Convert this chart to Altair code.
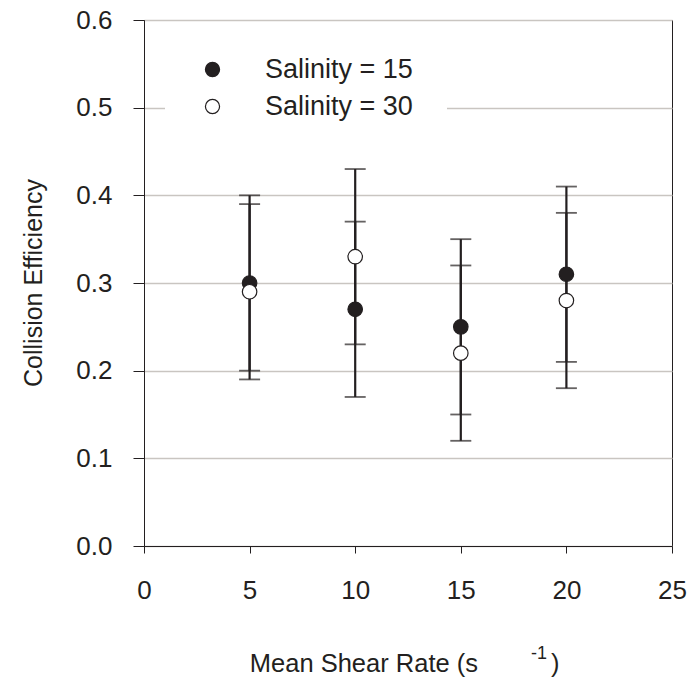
import altair as alt
import pandas as pd

# ---- data ----
shear = [5, 10, 15, 20]
series_names = ["Salinity = 15", "Salinity = 30"]
sal15_mean = [0.30, 0.27, 0.25, 0.31]
sal15_lo = [0.20, 0.17, 0.15, 0.21]
sal15_hi = [0.40, 0.37, 0.35, 0.41]
sal30_mean = [0.29, 0.33, 0.22, 0.28]
sal30_lo = [0.19, 0.23, 0.12, 0.18]
sal30_hi = [0.39, 0.43, 0.32, 0.38]
x_ticks = [0, 5, 10, 15, 20, 25]
y_ticks = [0.0, 0.1, 0.2, 0.3, 0.4, 0.5, 0.6]

rows = []
for name, m, lo, hi in [(series_names[0], sal15_mean, sal15_lo, sal15_hi),
                        (series_names[1], sal30_mean, sal30_lo, sal30_hi)]:
    for i, x in enumerate(shear):
        rows.append({"series": name, "x": x, "mean": m[i], "lo": lo[i], "hi": hi[i]})
df = pd.DataFrame(rows)
caps = pd.concat([
    df[["series", "x", "lo"]].rename(columns={"lo": "v"}),
    df[["series", "x", "hi"]].rename(columns={"hi": "v"}),
])

FONT = "Liberation Sans"
INK = "#231f20"
W, H = 528, 526

xscale = alt.Scale(domain=[0, 25], nice=False, zero=False)
yscale = alt.Scale(domain=[0, 0.6], nice=False)

xaxis = alt.Axis(values=x_ticks, title=None, tickSize=7, labelFontSize=26,
                 labelFont=FONT, labelColor=INK, labelPadding=24, grid=False,
                 domainColor=INK, tickColor=INK, labelFlush=False)
yaxis = alt.Axis(values=y_ticks, format=".1f", title=None, tickSize=11,
                 labelFontSize=26, labelFont=FONT, labelColor=INK, labelPadding=21,
                 grid=True, gridColor="#c9c5c1", gridWidth=1.5,
                 domainColor=INK, tickColor=INK)

base = alt.Chart(df)

stems = base.mark_rule(color=INK, strokeWidth=2.2).encode(
    x=alt.X("x:Q", scale=xscale, axis=xaxis),
    y=alt.Y("lo:Q", scale=yscale, axis=yaxis),
    y2="hi:Q",
)

cap_marks = alt.Chart(caps).mark_tick(color=INK, orient="horizontal", size=21, thickness=1.8).encode(
    x=alt.X("x:Q", scale=xscale),
    y=alt.Y("v:Q", scale=yscale),
)

points = base.mark_point(shape="circle", filled=True, size=210, stroke=INK,
                         strokeWidth=1.2, opacity=1).encode(
    x=alt.X("x:Q", scale=xscale),
    y=alt.Y("mean:Q", scale=yscale),
    fill=alt.Fill("series:N",
                  scale=alt.Scale(domain=series_names, range=[INK, "white"]),
                  legend=alt.Legend(title=None, orient="none", legendX=21, legendY=2,
                                    padding=34, fillColor="white", symbolType="circle",
                                    symbolSize=200, symbolStrokeColor=INK,
                                    symbolStrokeWidth=1.2, labelFont=FONT,
                                    labelFontSize=27, labelColor=INK, labelOffset=39,
                                    rowPadding=9, labelLimit=400)),
    order=alt.Order("series:N"),
)

y_title = alt.Chart(pd.DataFrame({"t": ["Collision Efficiency"]})).mark_text(
    font=FONT, fontSize=25, color=INK, angle=270, baseline="middle", align="center"
).encode(text="t:N", x=alt.value(-110), y=alt.value(H / 2))

x_title_main = alt.Chart(pd.DataFrame({"t": ["Mean Shear Rate (s"]})).mark_text(
    font=FONT, fontSize=25.5, color=INK, baseline="alphabetic", align="right"
).encode(text="t:N", x=alt.value(478 - 144), y=alt.value(672 - 20))

x_title_sup = alt.Chart(pd.DataFrame({"t": ["-1"]})).mark_text(
    font=FONT, fontSize=18, color=INK, baseline="alphabetic", align="left"
).encode(text="t:N", x=alt.value(531 - 144), y=alt.value(659 - 20))

x_title_close = alt.Chart(pd.DataFrame({"t": [")"]})).mark_text(
    font=FONT, fontSize=25.5, color=INK, baseline="alphabetic", align="left"
).encode(text="t:N", x=alt.value(551 - 144), y=alt.value(672 - 20))

chart = alt.layer(stems, cap_marks, points, y_title, x_title_main, x_title_sup,
                  x_title_close).properties(
    width=W, height=H,
    autosize=alt.AutoSizeParams(type="none"),
    padding={"left": 144, "top": 20, "right": 19, "bottom": 140},
    background="white",
).configure_view(stroke=INK, strokeWidth=1)

chart.save("out.html", embed_options={"renderer": "svg", "actions": False})
